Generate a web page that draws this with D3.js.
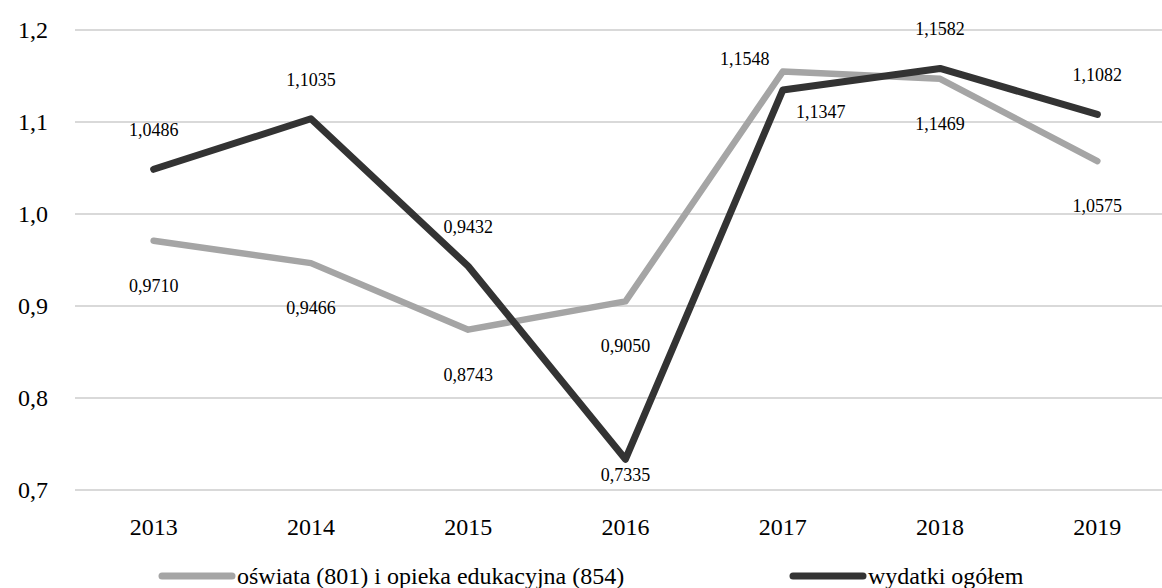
<!DOCTYPE html>
<html lang="pl">
<head>
    <meta charset="UTF-8">
    <title>Wskaźniki dynamiki wydatków</title>
    <script src="https://d3js.org/d3.v7.min.js"></script>
    <style>
        body { margin: 0; background: #fff; }
        text { font-family: 'Liberation Serif', 'Times New Roman', serif; fill: #000; }
    </style>
</head>
<body>
<script>
    const width  = 1162;
    const height = 588;

    const years   = ['2013', '2014', '2015', '2016', '2017', '2018', '2019'];
    const oswiata = [0.9710, 0.9466, 0.8743, 0.9050, 1.1548, 1.1469, 1.0575];
    const wydatki = [1.0486, 1.1035, 0.9432, 0.7335, 1.1347, 1.1582, 1.1082];
    const yTicks  = [0.7, 0.8, 0.9, 1.0, 1.1, 1.2];

    // where each data label sits relative to its point
    const oswiataLabelPos = ['below', 'below', 'below', 'below', 'left', 'below', 'below'];
    const wydatkiLabelPos = ['above', 'above', 'above', 'below', 'right', 'above', 'above'];

    const series = [
        {name: 'oświata (801) i opieka edukacyjna (854)', values: oswiata, pos: oswiataLabelPos, color: '#a5a5a5', width: 6.5},
        {name: 'wydatki ogółem', values: wydatki, pos: wydatkiLabelPos, color: '#333333', width: 7}
    ];

    const offsets = {
        above: [0, -39],
        below: [0, 45],
        left:  [-38, -13],
        right: [38, 22]
    };

    const fmt = v => d3.format('.4f')(v).replace('.', ',');
    const fmtTick = v => d3.format('.1f')(v).replace('.', ',');

    const x = d3.scalePoint().domain(years).range([75, 1176]).padding(0.5);
    const y = d3.scaleLinear().domain([0.7, 1.2]).range([490, 30]);

    const svg = d3.select('body').append('svg')
        .attr('width', width).attr('height', height);

    // gridlines
    svg.append('g').selectAll('line')
        .data(yTicks)
        .enter().append('line')
        .attr('x1', 75).attr('x2', 1176)
        .attr('y1', d => y(d)).attr('y2', d => y(d))
        .attr('stroke', '#d9d9d9')
        .attr('stroke-width', 2);

    // y tick labels
    svg.append('g').selectAll('text')
        .data(yTicks)
        .enter().append('text')
        .attr('x', 48)
        .attr('y', d => y(d) + 8)
        .attr('text-anchor', 'end')
        .attr('font-size', 24)
        .text(fmtTick);

    // x tick labels
    svg.append('g').selectAll('text')
        .data(years)
        .enter().append('text')
        .attr('x', d => x(d))
        .attr('y', 535)
        .attr('text-anchor', 'middle')
        .attr('font-size', 24)
        .text(d => d);

    const line = d3.line()
        .x((d, i) => x(years[i]))
        .y(d => y(d));

    series.forEach(s => {
        svg.append('path')
            .attr('d', line(s.values))
            .attr('fill', 'none')
            .attr('stroke', s.color)
            .attr('stroke-width', s.width)
            .attr('stroke-linecap', 'round')
            .attr('stroke-linejoin', 'round');
    });

    // data labels
    series.forEach(s => {
        svg.append('g').selectAll('text')
            .data(s.values)
            .enter().append('text')
            .attr('x', (d, i) => x(years[i]) + offsets[s.pos[i]][0])
            .attr('y', (d, i) => Math.min(y(d) + offsets[s.pos[i]][1], y(0.7) - 15) + 6)
            .attr('text-anchor', 'middle')
            .attr('font-size', 18)
            .text(fmt);
    });

    // legend
    const legendX = [162, 793];
    const legend = svg.append('g').selectAll('g')
        .data(series)
        .enter().append('g')
        .attr('transform', (d, i) => 'translate(' + [legendX[i], 576] + ')');

    legend.append('line')
        .attr('x1', 0).attr('x2', 70)
        .attr('stroke', d => d.color)
        .attr('stroke-width', 7)
        .attr('stroke-linecap', 'round');

    legend.append('text')
        .attr('x', 75)
        .attr('y', 8)
        .attr('font-size', 24)
        .text(d => d.name);
</script>
</body>
</html>
